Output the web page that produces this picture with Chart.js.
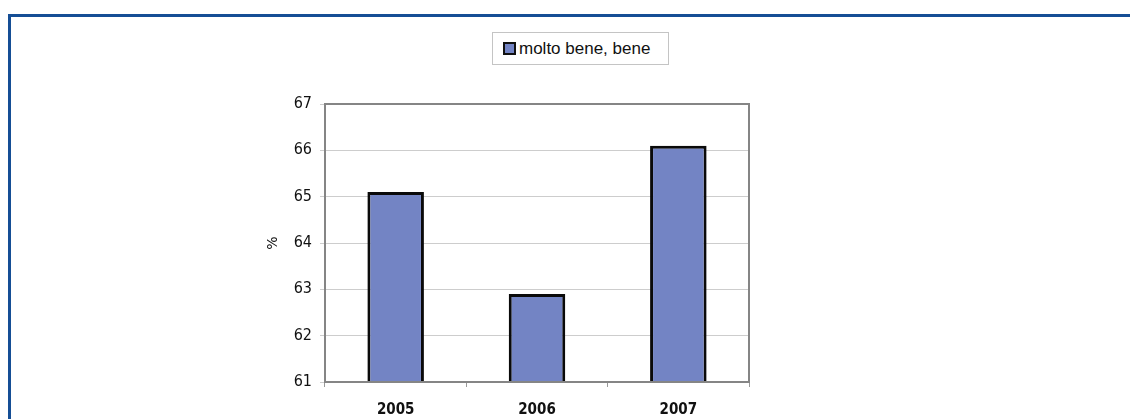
<!DOCTYPE html>
<html>
<head>
<meta charset="utf-8">
<script src="https://cdn.jsdelivr.net/npm/chart.js@4"></script>
<style>
  html, body { margin: 0; padding: 0; width: 1130px; height: 419px; overflow: hidden; background: #fff; }
  #frame { position: absolute; left: 8px; top: 14px; width: 1300px; height: 600px;
           border-top: 3px solid #154e95; border-left: 3px solid #154e95; }
  #chart { position: absolute; left: 0; top: 0; }
  #legend { position: absolute; left: 492px; top: 32px; width: 175px; height: 31px;
            border: 1px solid #c4c4c4; background: #fff; font-family: "Liberation Sans", Arial, sans-serif;
            font-size: 17px; color: #111; display: flex; align-items: center; box-sizing: content-box; }
  #legend .mk { display: inline-block; width: 9px; height: 9px; background: #7384c4; border: 2px solid #111;
                margin-left: 10px; margin-right: 3px; }
</style>
</head>
<body>
<div id="frame"></div>
<canvas id="chart" width="1130" height="419"></canvas>
<div id="legend"><span class="mk"></span><span id="legtext"></span></div>
<script>
const categories = ["2005", "2006", "2007"];
const seriesName = "molto bene, bene";
const values = [65.1, 62.9, 66.1];
const yTicks = [61, 62, 63, 64, 65, 66, 67];
const yTitle = "%";

document.getElementById('legtext').textContent = seriesName;

const framePlugin = {
  id: 'plotFrame',
  afterDatasetsDraw(chart) {
    const a = chart.chartArea, ctx = chart.ctx;
    ctx.save();
    ctx.strokeStyle = '#858585';
    ctx.lineWidth = 2;
    ctx.strokeRect(a.left, a.top, a.right - a.left, a.bottom - a.top);
    ctx.restore();
  }
};

new Chart(document.getElementById('chart'), {
  type: 'bar',
  data: {
    labels: categories,
    datasets: [{
      label: seriesName,
      data: values,
      backgroundColor: '#7384c4',
      borderColor: '#0a0a0a',
      borderWidth: 3,
      borderSkipped: false,
      categoryPercentage: 1.0,
      barPercentage: 0.4
    }]
  },
  options: {
    responsive: false,
    animation: false,
    devicePixelRatio: 1,
    layout: { padding: { left: 250, right: 381, top: 104, bottom: 0 } },
    plugins: { legend: { display: false }, tooltip: { enabled: false } },
    scales: {
      x: {
        offset: true,
        grid: { display: true, drawOnChartArea: false, tickLength: 5, color: '#999', offset: true },
        border: { display: true, color: '#858585', width: 2 },
        ticks: { color: '#111', padding: 14, font: { family: '"DejaVu Sans Condensed", "DejaVu Sans", sans-serif', size: 15, weight: 'bold' } },
        afterFit(s) { s.height = 37; }
      },
      y: {
        min: yTicks[0],
        max: yTicks[yTicks.length - 1],
        afterBuildTicks(s) { s.ticks = yTicks.map(v => ({ value: v })); },
        grid: { color: '#cdcdcd', lineWidth: 1, tickLength: 5 },
        border: { display: true, color: '#858585', width: 2 },
        ticks: { color: '#111', padding: 8, font: { family: '"DejaVu Sans Condensed", "DejaVu Sans", sans-serif', size: 16 } },
        title: { display: true, text: yTitle, color: '#111', padding: { top: 15, bottom: 0 },
                 font: { family: '"DejaVu Sans", sans-serif', size: 14 } },
        afterFit(s) { s.width = 75; }
      }
    }
  },
  plugins: [framePlugin]
});
</script>
</body>
</html>
